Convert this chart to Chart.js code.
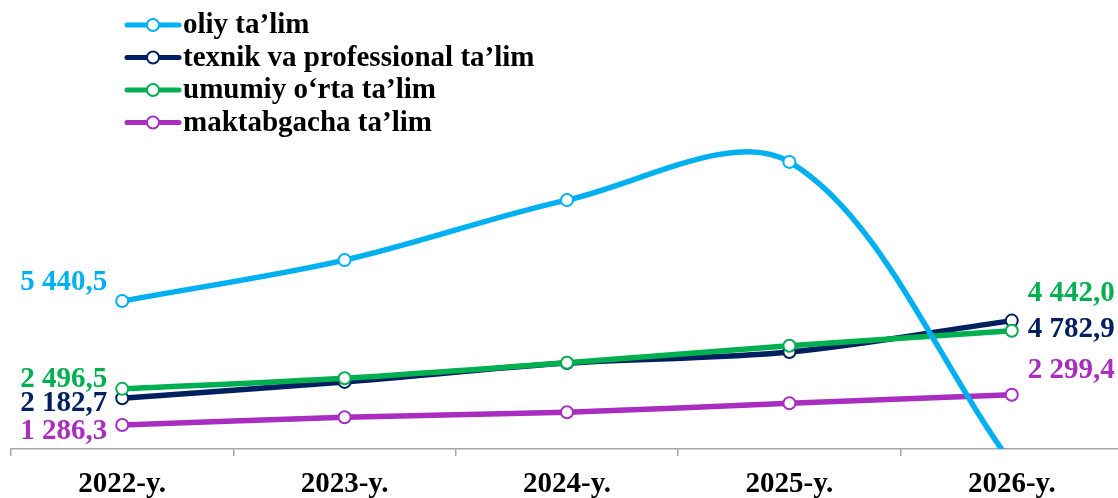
<!DOCTYPE html>
<html lang="uz">
<head>
  <meta charset="UTF-8" />
  <title>Ta'lim xarajatlari</title>
  <script src="https://cdn.jsdelivr.net/npm/chart.js"></script>
  <style>
    html, body {
      margin: 0;
      padding: 0;
      background: #fff;
      overflow: hidden;
    }
    .chart-box {
      width: 1134px;
      height: 498px;
    }
  </style>
</head>
<body>
  <div class="chart-box">
    <canvas id="eduChart"></canvas>
  </div>

  <script>
    // data (first and last values are the printed labels)
    const years = ["2022-y.", "2023-y.", "2024-y.", "2025-y.", "2026-y."];
    const seriesNames = ["oliy ta’lim", "texnik va professional ta’lim", "umumiy o‘rta ta’lim", "maktabgacha ta’lim"];
    const oliy = [5440.5, 6810, 8820, 10100, 0];
    const texnik = [2182.7, 2730, 3360, 3730, 4782.9];
    const umumiy = [2496.5, 2850, 3370, 3940, 4442.0];
    const maktabgacha = [1286.3, 1545, 1712, 2013, 2299.4];

    const colors = ["#00B0F0", "#002060", "#00B050", "#A92DBE"];
    const drawOrder = [0, 2, 1, 3]; // green sits over navy
    // which ends get a value label: [first, last]
    const showLabels = [[true, false], [true, true], [true, true], [true, true]];
    // vertical nudges for the end labels (px)
    const firstDy = [-18, 5, -9, 7];
    const lastDy = [0, 9, -37, -24];

    const FONT = "bold 29px 'Liberation Serif', 'Times New Roman', serif";

    function fmt(v) {
      const parts = v.toFixed(1).split(".");
      const int = parts[0].replace(/\B(?=(\d{3})+(?!\d))/g, " ");
      return int + "," + parts[1];
    }

    const endLabels = {
      id: "endLabels",
      afterDatasetsDraw(chart) {
        const ctx = chart.ctx;
        ctx.save();
        ctx.font = FONT;
        ctx.textBaseline = "middle";
        chart.data.datasets.forEach((ds, i) => {
          const pts = chart.getDatasetMeta(i).data;
          ctx.fillStyle = colors[i];
          if (showLabels[i][0]) {
            const p = pts[0];
            ctx.textAlign = "right";
            ctx.fillText(fmt(ds.data[0]), p.x - 15, p.y + firstDy[i]);
          }
          if (showLabels[i][1]) {
            const n = pts.length - 1;
            const p = pts[n];
            ctx.textAlign = "left";
            ctx.fillText(fmt(ds.data[n]), p.x + 16, p.y + lastDy[i]);
          }
        });
        ctx.restore();
      }
    };

    const lineLegend = {
      id: "lineLegend",
      afterDraw(chart) {
        const ctx = chart.ctx;
        ctx.save();
        ctx.font = FONT;
        ctx.textBaseline = "middle";
        ctx.textAlign = "left";
        chart.data.datasets.forEach((ds, i) => {
          const y = 25 + i * 32.5;
          ctx.strokeStyle = colors[i];
          ctx.lineWidth = 5;
          ctx.lineCap = "round";
          ctx.beginPath();
          ctx.moveTo(127, y);
          ctx.lineTo(179, y);
          ctx.stroke();
          ctx.beginPath();
          ctx.arc(153, y, 6, 0, Math.PI * 2);
          ctx.fillStyle = "#fff";
          ctx.fill();
          ctx.lineWidth = 2;
          ctx.stroke();
          ctx.fillStyle = "#000";
          ctx.fillText(ds.label, 183, y + 1);
        });
        ctx.restore();
      }
    };

    const allSeries = [oliy, texnik, umumiy, maktabgacha];

    new Chart(document.getElementById("eduChart"), {
      type: "line",
      data: {
        labels: years,
        datasets: allSeries.map((vals, i) => ({
          label: seriesNames[i],
          data: vals,
          order: drawOrder[i],
          borderColor: colors[i],
          backgroundColor: "#fff",
          borderWidth: 5.5,
          pointRadius: 6,
          pointBorderWidth: 2,
          pointBackgroundColor: "#fff",
          pointBorderColor: colors[i],
          tension: 0.33,
          fill: false
        }))
      },
      options: {
        responsive: true,
        maintainAspectRatio: false,
        animation: false,
        events: [],
        layout: { padding: { top: 10, left: 11, right: 11, bottom: 0 } },
        plugins: {
          legend: { display: false },
          tooltip: { enabled: false }
        },
        scales: {
          x: {
            offset: true,
            grid: {
              display: true,
              offset: true,
              drawOnChartArea: false,
              drawTicks: true,
              tickLength: 7,
              color: "#A6A6A6",
              lineWidth: 1.5
            },
            border: { display: true, color: "#A6A6A6", width: 1.5 },
            ticks: {
              color: "#000",
              padding: 11,
              font: { family: "'Liberation Serif', 'Times New Roman', serif", size: 29, weight: "bold" }
            },
            afterFit(scale) { scale.height = 49; }
          },
          y: {
            display: false,
            min: 482,
            max: 15189
          }
        }
      },
      plugins: [endLabels, lineLegend]
    });
  </script>
</body>
</html>
